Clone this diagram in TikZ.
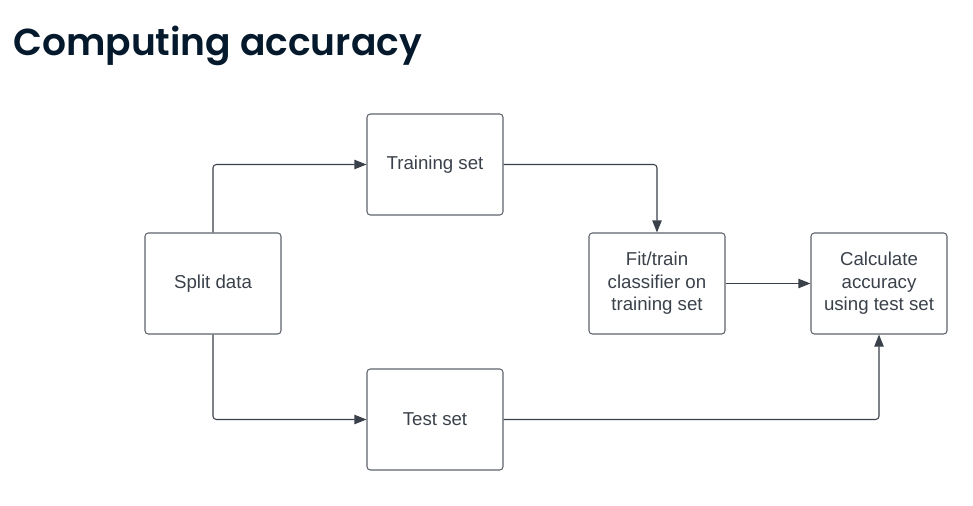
\documentclass[tikz,border=0pt]{standalone}
\usepackage{fontspec}
\setmainfont{Liberation Sans}
\newfontfamily\titlefont{Poppins}[UprightFont=* SemiBold]
\usetikzlibrary{arrows.meta}
\definecolor{navy}{HTML}{05192D}
\definecolor{boxline}{HTML}{5E646C}
\definecolor{txt}{HTML}{3A414A}
\begin{document}
\begin{tikzpicture}[x=0.75pt,y=-0.75pt,
  box/.style={draw=boxline,line width=0.8pt,rounded corners=2.5pt,minimum width=136*0.75pt,minimum height=101*0.75pt,
    align=center,text=txt,font=\fontsize{14pt}{16.9pt}\selectfont,inner sep=0pt},
  conn/.style={draw=txt,line width=0.8pt,rounded corners=2.5pt,-{Triangle[length=9pt,width=7pt]}}]
\useasboundingbox (0,0) rectangle (973,506);
\node[anchor=base west,text=navy,font=\titlefont\fontsize{28.2pt}{30pt}\selectfont,inner sep=0pt] (title) at (13,56) {Computing accuracy};
\node[box] (split) at (213,283.5) {Split data};
\node[box] (train) at (435,164.5) {Training set};
\node[box] (test) at (435,419.5) {Test set};
\node[box] (fit) at (657,283.5) {Fit/train\\classifier on\\training set};
\node[box] (calc) at (879,283.5) {Calculate\\accuracy\\using test set};
\draw[conn] (split.north) |- (train.west);
\draw[conn] (split.south) |- (test.west);
\draw[conn] (train.east) -| (fit.north);
\draw[conn] (fit.east) -- (calc.west);
\draw[conn] (test.east) -| (calc.south);
\end{tikzpicture}
\end{document}
